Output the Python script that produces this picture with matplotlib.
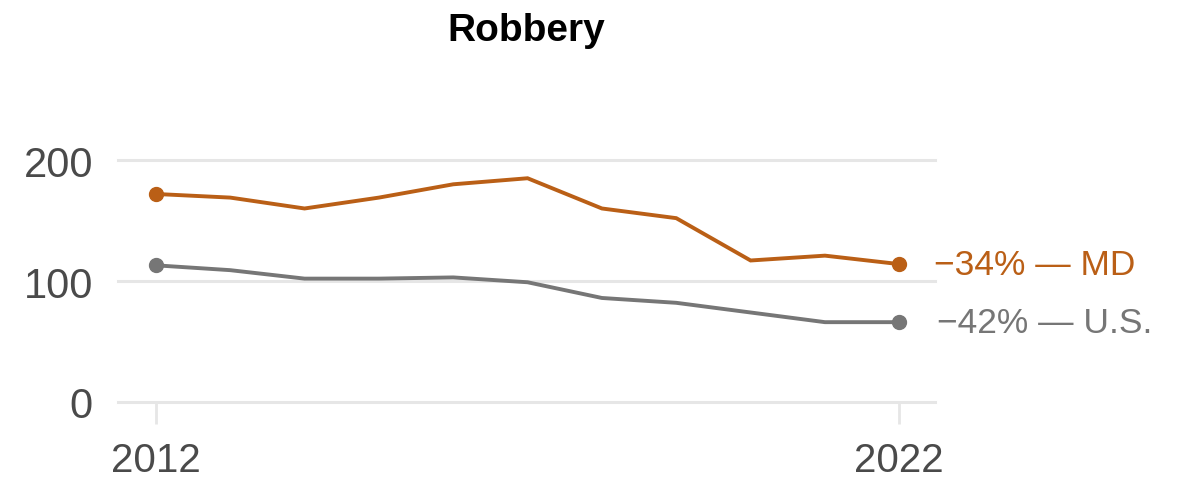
import numpy as np
import matplotlib
matplotlib.use('Agg')
import matplotlib.pyplot as plt

plt.rcParams['font.family'] = ['Liberation Sans', 'DejaVu Sans']

years = [2012, 2013, 2014, 2015, 2016, 2017, 2018, 2019, 2020, 2021, 2022]
md_rate = [172, 169, 160, 169, 180, 185, 160, 152, 117, 121, 114]
us_rate = [113, 109, 102, 102, 103, 99, 86, 82, 74, 66, 66]
md_label = '\u221234% \u2014 MD'
us_label = '\u221242% \u2014 U.S.'
title = 'Robbery'

md_color = '#BA5F16'
us_color = '#767676'
grid_color = '#E6E6E6'
text_color = '#4A4A4A'

fig = plt.figure(figsize=(11.82, 4.81), dpi=100)
ax = fig.add_axes([0.0998, 0.1622, 0.6912, 0.528])

# light gridlines at the three y ticks
for val in [0, 100, 200]:
    ax.axhline(val, color=grid_color, lw=2.2, zorder=0, clip_on=False)

ax.plot(years, md_rate, color=md_color, lw=2.8, solid_joinstyle='miter', zorder=3)
ax.plot(years, us_rate, color=us_color, lw=2.8, solid_joinstyle='miter', zorder=2)
# dots only on first and last year
ax.plot([years[0], years[-1]], [md_rate[0], md_rate[-1]], 'o', color=md_color, ms=10, zorder=4)
ax.plot([years[0], years[-1]], [us_rate[0], us_rate[-1]], 'o', color=us_color, ms=10, zorder=4)

ax.annotate(md_label, xy=(years[-1], md_rate[-1]), xytext=(25, 0), textcoords='offset points',
            va='center', ha='left', fontsize=25.5, color=md_color, annotation_clip=False)
ax.annotate(us_label, xy=(years[-1], us_rate[-1]), xytext=(27, 0), textcoords='offset points',
            va='center', ha='left', fontsize=25.5, color=us_color, annotation_clip=False)

ax.set_xlim(2011.49, 2022.48)
ax.set_ylim(0, 210)
ax.set_yticks([0, 100, 200])
ax.set_xticks([2012, 2022])
ax.tick_params(axis='y', length=0, pad=18, labelsize=30, labelcolor=text_color)
ax.tick_params(axis='x', length=16, width=2, color=grid_color, pad=12, labelsize=29, labelcolor=text_color)
for s in ax.spines.values():
    s.set_visible(False)

pos = ax.get_position()
fig.text(pos.x0 + pos.width / 2, 0.935, title,
         ha='center', va='center', fontsize=28, fontweight='bold', color='black')

fig.savefig('out.png', dpi=100, facecolor='white')
